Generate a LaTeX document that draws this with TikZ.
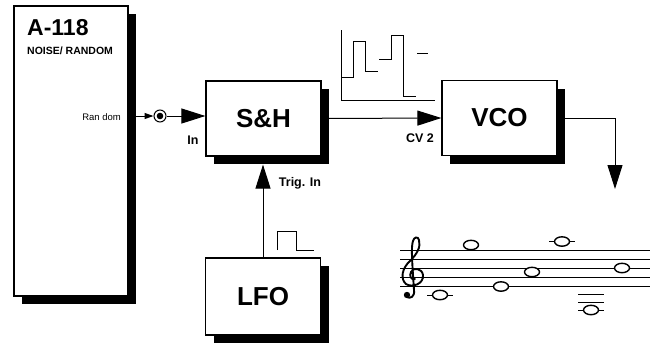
\documentclass[tikz,border=0pt]{standalone}
\usepackage{fontspec}
\setmainfont{Liberation Sans}
\usetikzlibrary{arrows.meta,positioning,shadows}

\begin{document}
\begin{tikzpicture}[x=1pt,y=-1pt,
  modbox/.style={draw, fill=white, line width=1.2pt, minimum width=115pt, minimum height=75pt,
                 font=\fontsize{26}{26}\selectfont\bfseries,
                 drop shadow={shadow xshift=8pt, shadow yshift=-8pt, fill=black, opacity=1}},
  lbl/.style={font=\fontsize{12.5}{12.5}\selectfont\bfseries, inner sep=0pt},
  bigarr/.style={-{Triangle[length=24pt,width=15pt]}, line width=1pt},
  smallarr/.style={-{Triangle[length=9pt,width=6pt]}, line width=1pt},
  wave/.style={line width=1pt},
  noteshape/.style={line width=1.4pt, fill=white}]

\useasboundingbox (0,0) rectangle (658,343);

% modules
\node[modbox, minimum width=114pt, minimum height=290pt] (panel) at (71,151) {};
\node[font=\fontsize{23}{23}\selectfont\bfseries, anchor=north west, inner sep=0pt] (pname) at (27,19) {A-118};
\node[font=\fontsize{10.5}{10.5}\selectfont\bfseries, anchor=north west, inner sep=0pt] (ptype) at (27,47) {NOISE/ RANDOM};
\node[font=\fontsize{9.5}{9.5}\selectfont, anchor=east, inner sep=0pt] (rnd) at (121,117) {Ran dom};

\node[modbox] (sh) at (263.5,118.5) {S\&H};
\node[modbox] (vco) at (499.5,118) {VCO};
\node[modbox, minimum height=77pt] (lfo) at (263,296.5) {LFO};

\node[circle, draw, line width=1pt, minimum size=12pt, inner sep=0pt] (jack) at (160,116) {};
\fill (jack) circle (3.3);
\coordinate (out) at (615,189);

% connections
\draw[smallarr] (panel.east |- jack) -- (jack.west);
\draw[bigarr] (jack.east) -- (sh.west |- jack);
\draw[bigarr] (sh.east) -- (vco.west);
\draw[bigarr] (vco.east) -| (out);
\draw[bigarr, shorten >=8pt] (lfo.north) -- (lfo.north |- sh.south);

\node[lbl] (inl) at (193,140) {In};
\node[lbl] (cvl) at (420,138) {CV 2};
\node[lbl] (trl) at (300,183) {Trig. In};

% signals
\draw[wave] (341,30) -- (341,100) -- (435,100);
\draw[wave] (341,77) -- (353,77) -- (353,41) -- (365,41) -- (365,71) -- (378,71);
\draw[wave] (379,59) -- (391,59) -- (391,35) -- (403,35) -- (403,96) -- (416,96);
\draw[wave] (417,53) -- (428,53);
\draw[wave] (277,250) -- (277,231) -- (296,231) -- (296,250) -- (314,250);

% staff
\foreach \sy in {250.5,259.5,268,277,286.5}
  \draw[line width=1pt] (400,\sy) -- (650,\sy);
\draw[line width=1.9pt, line cap=round] (415,279) .. controls (411,280) and (409,276) .. (411,272)
  .. controls (413,267) and (422,268) .. (423,275) .. controls (424,284) and (412,288) .. (406,284)
  .. controls (400,279) and (402,268) .. (410,261) .. controls (417,254) and (421,247) .. (419,240)
  .. controls (418,236) and (414,237) .. (413,241) .. controls (411,247) and (412,260) .. (414,290)
  .. controls (415,297) and (410,299) .. (407,297);
\fill (407,295) circle (3.2);
\foreach \lx/\ly in {440/295, 562/241.5, 591/294.5, 591/302.5, 591/310}
  \draw[line width=1pt] (\lx-13,\ly) -- (\lx+13,\ly);
\foreach \nx/\ny in {440/295, 471/245, 501/286.5, 532/272, 562/241.5, 591/310, 622/268}
  \draw[noteshape] (\nx,\ny) ellipse [x radius=7.5, y radius=4.7];
\end{tikzpicture}
\end{document}
